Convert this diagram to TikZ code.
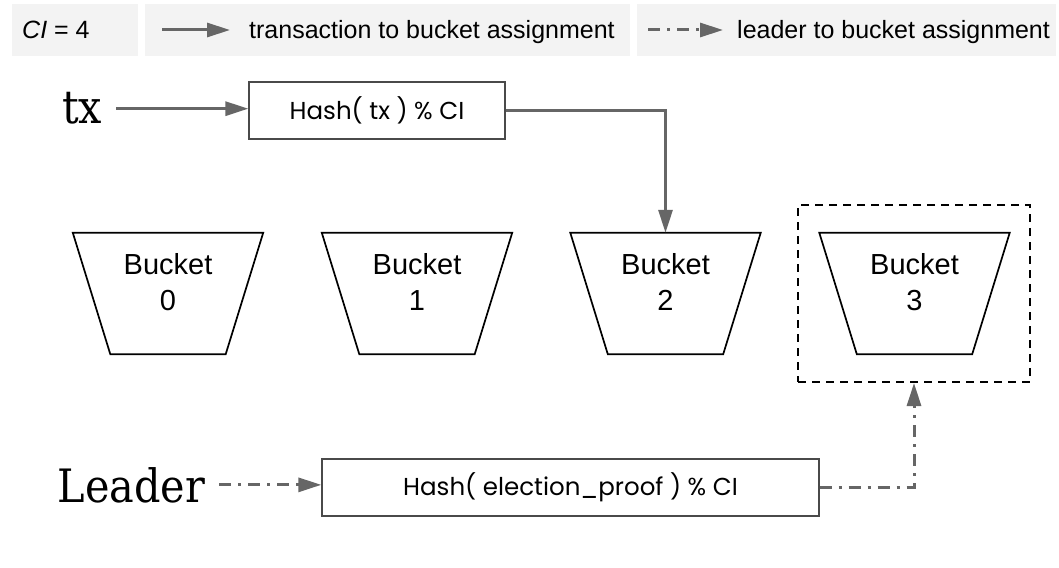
\documentclass[tikz,border=0pt]{standalone}
\usepackage{fontspec}
\setmainfont{Liberation Sans}
\newfontfamily\serifx[FakeStretch=0.9]{DejaVu Serif}
\newfontfamily\popp{Poppins}
\usetikzlibrary{arrows.meta,calc}
\definecolor{arr}{HTML}{666666}
\definecolor{legbg}{HTML}{F3F3F3}
\definecolor{boxln}{HTML}{4A4A4A}
\tikzset{
  legbox/.style={fill=legbg, draw=none, minimum height=52pt, inner sep=0pt},
  legtext/.style={anchor=base west, inner sep=0pt, font=\fontsize{25}{30}\selectfont},
  hashbox/.style={draw=boxln, line width=1.3pt, fill=white, inner sep=0pt, minimum height=57pt, font=\popp\fontsize{24.5}{28}\selectfont},
  bucketbox/.style={draw=none, inner sep=0pt, minimum width=190pt, minimum height=121pt},
  bucketline/.style={draw=black, line width=1.7pt, line join=miter},
  buckettext/.style={align=center, inner sep=0pt, font=\fontsize{29}{36}\selectfont},
  bigword/.style={inner xsep=14pt, inner ysep=0pt, font=\serifx\fontsize{46}{50}\selectfont},
  selbox/.style={draw=black, line width=2pt, dash pattern=on 8pt off 6pt, minimum width=232pt, minimum height=177pt, inner sep=0pt},
  solidarrow/.style={draw=arr, line width=3pt, -{Triangle[length=23pt,width=14pt]}},
  dasharrow/.style={draw=arr, line width=3pt, dash pattern=on 12pt off 7pt on 3pt off 7pt, -{Triangle[length=23pt,width=14pt]}}
}
\begin{document}
\begin{tikzpicture}[x=1pt,y=-1pt]
\useasboundingbox (0,0) rectangle (1059,567);
% legend
\node[legbox, minimum width=126pt] (lg1) at (75,30) {};
\node[legbox, minimum width=485pt] (lg2) at (387.5,30) {};
\node[legbox, minimum width=419pt] (lg3) at (846.5,30) {};
\node[legtext] (ci) at (22,38.5) {\itshape CI\upshape{} = 4};
\coordinate (la1) at (162,30);
\coordinate (la2) at (230,30);
\coordinate (lb1) at (648,30);
\coordinate (lb2) at (723,30);
\draw[solidarrow] (la1) -- (la2);
\draw[dasharrow] (lb1) -- (lb2);
\node[legtext] (lt1) at (249,38.5) {transaction to bucket assignment};
\node[legtext] (lt2) at (737,38.5) {leader to bucket assignment};
% buckets
\foreach \i/\cx in {0/168,1/417,2/665.5,3/914.5}{
  \node[bucketbox] (b\i) at (\cx,293.5) {};
  \draw[bucketline] (b\i.north west) -- (b\i.north east) -- ([xshift=-37.5pt]b\i.south east) -- ([xshift=37.5pt]b\i.south west) -- cycle;
  \node[buckettext] (t\i) at (\cx,282) {Bucket\\\i};
}
\node[selbox] (sel) at (914,293.5) {};
% hash boxes
\node[hashbox, minimum width=256pt] (h1) at (377,110.5) {Hash( tx ) \% CI};
\node[hashbox, minimum width=497pt] (h2) at (570.5,487.5) {Hash( election\_proof ) \% CI};
% inputs
\node[bigword, anchor=base] (tx) at (82,124) {tx};
\node[bigword, anchor=base] (leader) at (131.5,502) {Leader};
% connectors
\draw[solidarrow] (tx.east) -- (tx.east -| h1.west);
\draw[solidarrow] (h1.east) -| (b2.north);
\draw[dasharrow] (leader.east) -- (leader.east -| h2.west);
\draw[dasharrow] (h2.east) -| (sel.south);
\end{tikzpicture}
\end{document}
